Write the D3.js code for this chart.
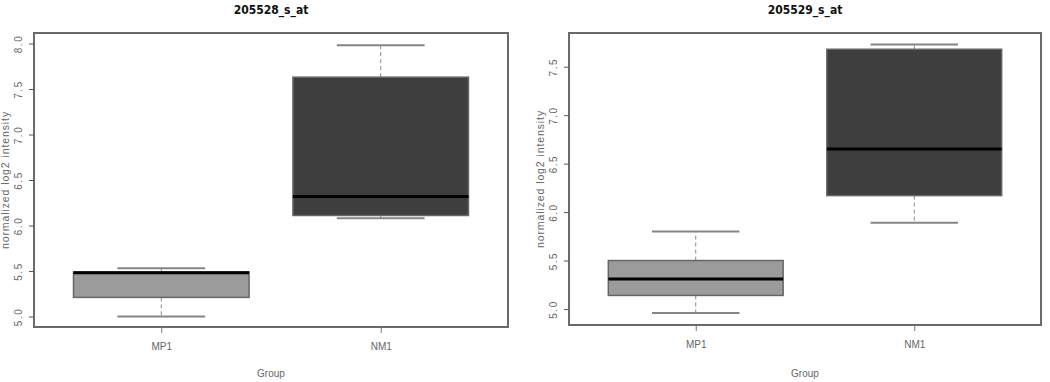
<!DOCTYPE html>
<html>
<head>
<meta charset="utf-8">
<script src="https://cdn.jsdelivr.net/npm/d3@7"></script>
<style>
  body { margin: 0; background: #fff; }
  svg { display: block; font-family: "Liberation Sans", Arial, sans-serif; }
  .lbl { fill: #666; font-size: 10px; }
  .title { fill: #111; font-size: 12px; font-weight: bold; font-family: "Liberation Sans Narrow", "DejaVu Sans Condensed", "Liberation Sans", sans-serif; }
</style>
</head>
<body>
<svg id="chart" width="1050" height="382"></svg>
<script>
// probe sets, one panel each
const probes = ['205528_s_at', '205529_s_at'];
const groups = ['MP1', 'NM1'];

// boxplot stats per group: [lower whisker, Q1, median, Q3, upper whisker]
const stats205528 = [
  [5.00, 5.21, 5.48, 5.49, 5.53],
  [6.08, 6.11, 6.32, 7.63, 7.98]
];
const stats205529 = [
  [4.96, 5.14, 5.31, 5.50, 5.80],
  [5.89, 6.17, 6.65, 7.68, 7.73]
];

const yTicks205528 = [5.0, 5.5, 6.0, 6.5, 7.0, 7.5, 8.0];
const yTicks205529 = [5.0, 5.5, 6.0, 6.5, 7.0, 7.5];

const fills = ['#9b9b9b', '#3e3e3e'];

const panels = [
  { title: probes[0], stats: stats205528, ticks: yTicks205528,
    frame: { x0: 34, x1: 508, y0: 33, y1: 327 }, yDom: [5, 8], yRng: [316.5, 43.5] },
  { title: probes[1], stats: stats205529, ticks: yTicks205529,
    frame: { x0: 569, x1: 1041, y0: 33, y1: 325 }, yDom: [5, 7.5], yRng: [309, 66.7] }
];

const svg = d3.select('#chart');

panels.forEach(p => {
  const f = p.frame;
  const g = svg.append('g');

  // R style x range: 0.5..n+0.5 with 4% padding
  const x = d3.scaleLinear().domain([0.42, 2.58]).range([f.x0, f.x1]);
  const y = d3.scaleLinear().domain(p.yDom).range(p.yRng);
  const boxW = 0.8, capW = 0.4;

  p.stats.forEach((s, i) => {
    const cx = x(i + 1);
    const [lo, q1, med, q3, hi] = s;
    // whiskers (dashed)
    g.append('line').attr('x1', cx).attr('x2', cx).attr('y1', y(q3)).attr('y2', y(hi))
      .attr('stroke', '#8a8a8a').attr('stroke-dasharray', '4,3');
    g.append('line').attr('x1', cx).attr('x2', cx).attr('y1', y(q1)).attr('y2', y(lo))
      .attr('stroke', '#8a8a8a').attr('stroke-dasharray', '4,3');
    // caps
    [lo, hi].forEach(v => {
      g.append('line')
        .attr('x1', x(i + 1 - capW / 2)).attr('x2', x(i + 1 + capW / 2))
        .attr('y1', y(v)).attr('y2', y(v))
        .attr('stroke', '#858585').attr('stroke-width', 2);
    });
    // box
    g.append('rect')
      .attr('x', x(i + 1 - boxW / 2))
      .attr('width', x(i + 1 + boxW / 2) - x(i + 1 - boxW / 2))
      .attr('y', y(q3))
      .attr('height', y(q1) - y(q3))
      .attr('fill', fills[i])
      .attr('stroke', '#666').attr('stroke-width', 1.5);
    // median
    g.append('line')
      .attr('x1', x(i + 1 - boxW / 2)).attr('x2', x(i + 1 + boxW / 2))
      .attr('y1', y(med)).attr('y2', y(med))
      .attr('stroke', '#000').attr('stroke-width', 3);
  });

  // frame
  g.append('rect')
    .attr('x', f.x0).attr('y', f.y0)
    .attr('width', f.x1 - f.x0).attr('height', f.y1 - f.y0)
    .attr('fill', 'none').attr('stroke', '#6a6a6a').attr('stroke-width', 2);

  // y axis
  const yAxis = g.append('g')
    .attr('transform', `translate(${f.x0},0)`)
    .call(d3.axisLeft(y).tickValues(p.ticks).tickFormat(d3.format('.1f')).tickSize(5).tickPadding(0));
  yAxis.select('.domain').remove();
  yAxis.selectAll('line').attr('stroke', '#555');
  yAxis.selectAll('text')
    .attr('x', 0).attr('y', 0).attr('dy', 0)
    .attr('text-anchor', 'middle')
    .attr('transform', 'translate(-12,0) rotate(-90)')
    .style('font-size', '10px').style('letter-spacing', '1.5px').style('fill', '#666');

  // x axis
  const xAxis = g.append('g')
    .attr('transform', `translate(0,${f.y1})`)
    .call(d3.axisBottom(x).tickValues([1, 2]).tickFormat((d, i) => groups[i]).tickSize(6).tickPadding(10));
  xAxis.select('.domain').remove();
  xAxis.selectAll('line').attr('stroke', '#777');
  xAxis.selectAll('text').style('font-size', '10px').style('fill', '#666');

  // axis titles
  g.append('text').attr('class', 'lbl')
    .attr('x', (f.x0 + f.x1) / 2).attr('y', 377)
    .attr('text-anchor', 'middle').text('Group');
  g.append('text').attr('class', 'lbl')
    .attr('transform', `translate(${f.x0 - 25},${(f.y0 + f.y1) / 2}) rotate(-90)`)
    .attr('text-anchor', 'middle').style('font-size', '10.5px').style('letter-spacing', '0.9px')
    .text('normalized log2 intensity');

  // title
  g.append('text').attr('class', 'title')
    .attr('x', (f.x0 + f.x1) / 2).attr('y', 14)
    .attr('text-anchor', 'middle').text(p.title);
});
</script>
</body>
</html>
